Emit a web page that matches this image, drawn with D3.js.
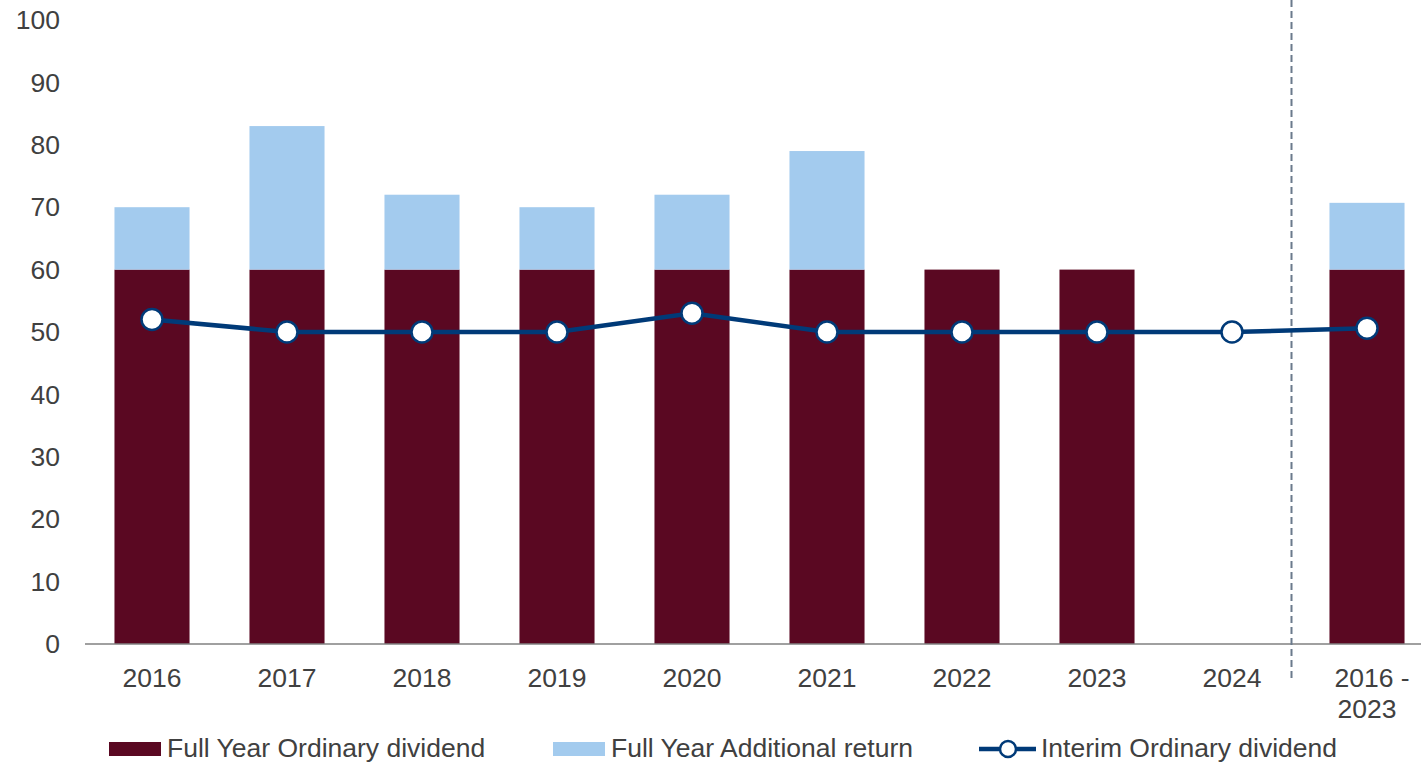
<!DOCTYPE html>
<html>
<head>
<meta charset="utf-8">
<script src="https://cdn.jsdelivr.net/npm/d3@7"></script>
<style>
  body { margin: 0; background: #fff; }
  text { font-family: "Liberation Sans", Arial, sans-serif; fill: #404040; }
</style>
</head>
<body>
<div id="chart"></div>
<script>
var categories = ["2016", "2017", "2018", "2019", "2020", "2021", "2022", "2023", "2024", "2016 - 2023"];
var ordinary   = [60, 60, 60, 60, 60, 60, 60, 60, 0, 60];
var additional = [10, 23, 12, 10, 12, 19, 0, 0, 0, 10.7];
var interim    = [52, 50, 50, 50, 53, 50, 50, 50, 50, 50.6];
var yTicks     = [0, 10, 20, 30, 40, 50, 60, 70, 80, 90, 100];
var legendLabels = ["Full Year Ordinary dividend", "Full Year Additional return", "Interim Ordinary dividend"];

var W = 1421, H = 762;
var cMaroon = "#5a0822", cBlue = "#a3cbee", cNavy = "#003a78";
var fs = "26.5px";

function main() {
    var svg = d3.select("#chart").append("svg")
        .attr("width", W).attr("height", H);

    var x = d3.scaleBand().domain(categories).range([84.5, 1434.5])
        .paddingInner(0.444).paddingOuter(0.222);
    var y = d3.scaleLinear().domain([0, 100]).range([644, 20]);

    // y tick labels
    svg.append("g").selectAll("text")
        .data(yTicks).enter().append("text")
        .attr("x", 60).attr("y", function(d) { return y(d); })
        .attr("dy", "0.35em")
        .attr("text-anchor", "end")
        .style("font-size", fs)
        .text(function(d) { return d; });

    // bars
    var g = svg.append("g");
    g.selectAll("rect.ord").data(categories).enter().append("rect")
        .attr("class", "ord")
        .attr("x", function(d) { return x(d); })
        .attr("width", x.bandwidth())
        .attr("y", function(d, i) { return y(ordinary[i]); })
        .attr("height", function(d, i) { return y(0) - y(ordinary[i]); })
        .attr("fill", cMaroon);
    g.selectAll("rect.add").data(categories).enter().append("rect")
        .attr("class", "add")
        .attr("x", function(d) { return x(d); })
        .attr("width", x.bandwidth())
        .attr("y", function(d, i) { return y(ordinary[i] + additional[i]); })
        .attr("height", function(d, i) { return y(ordinary[i]) - y(ordinary[i] + additional[i]); })
        .attr("fill", cBlue);

    // x axis line
    svg.append("line").attr("x1", 85).attr("x2", W)
        .attr("y1", y(0)).attr("y2", y(0))
        .attr("stroke", "#808080").attr("stroke-width", 1.5);

    // separator
    var sepX = x("2024") + x.bandwidth() + (x.step() - x.bandwidth()) / 2 - 8;
    svg.append("line").attr("x1", sepX).attr("x2", sepX)
        .attr("y1", 0).attr("y2", 680)
        .attr("stroke", "#6b7a8c").attr("stroke-width", 2)
        .attr("stroke-dasharray", "7,4");

    // x labels
    var xl = svg.append("g").selectAll("text")
        .data(categories).enter().append("text")
        .attr("x", function(d) { return x(d) + x.bandwidth() / 2; })
        .attr("y", 687)
        .attr("text-anchor", "middle")
        .style("font-size", fs);
    xl.each(function(d) {
        var parts = d.indexOf(" - ") > 0 ? [d.split(" - ")[0] + " -", d.split(" - ")[1]] : [d];
        var t = d3.select(this);
        parts.forEach(function(p, k) {
            t.append("tspan")
                .attr("x", x(d) + x.bandwidth() / 2 + (k === 0 && parts.length > 1 ? 5 : 0))
                .attr("dy", k === 0 ? 0 : 31)
                .text(p);
        });
    });

    // line
    var line = d3.line()
        .x(function(d, i) { return x(categories[i]) + x.bandwidth() / 2; })
        .y(function(d) { return y(d); });
    svg.append("path").datum(interim)
        .attr("d", line)
        .attr("fill", "none")
        .attr("stroke", cNavy).attr("stroke-width", 4.5);
    svg.append("g").selectAll("circle").data(interim).enter().append("circle")
        .attr("cx", function(d, i) { return x(categories[i]) + x.bandwidth() / 2; })
        .attr("cy", function(d) { return y(d); })
        .attr("r", 10.5)
        .attr("fill", "#fff")
        .attr("stroke", cNavy).attr("stroke-width", 2.5);

    // legend
    var lg = svg.append("g");
    lg.append("rect").attr("x", 109).attr("y", 742).attr("width", 52).attr("height", 14).attr("fill", cMaroon);
    lg.append("text").attr("x", 167).attr("y", 757).style("font-size", fs).text(legendLabels[0]);
    lg.append("rect").attr("x", 553).attr("y", 742).attr("width", 52).attr("height", 14).attr("fill", cBlue);
    lg.append("text").attr("x", 611).attr("y", 757).style("font-size", fs).text(legendLabels[1]);
    lg.append("line").attr("x1", 979).attr("x2", 1036).attr("y1", 749).attr("y2", 749)
        .attr("stroke", cNavy).attr("stroke-width", 4.5);
    lg.append("circle").attr("cx", 1008).attr("cy", 749).attr("r", 8)
        .attr("fill", "#fff").attr("stroke", cNavy).attr("stroke-width", 2.5);
    lg.append("text").attr("x", 1041).attr("y", 757).style("font-size", fs).text(legendLabels[2]);
}

main();
</script>
</body>
</html>
